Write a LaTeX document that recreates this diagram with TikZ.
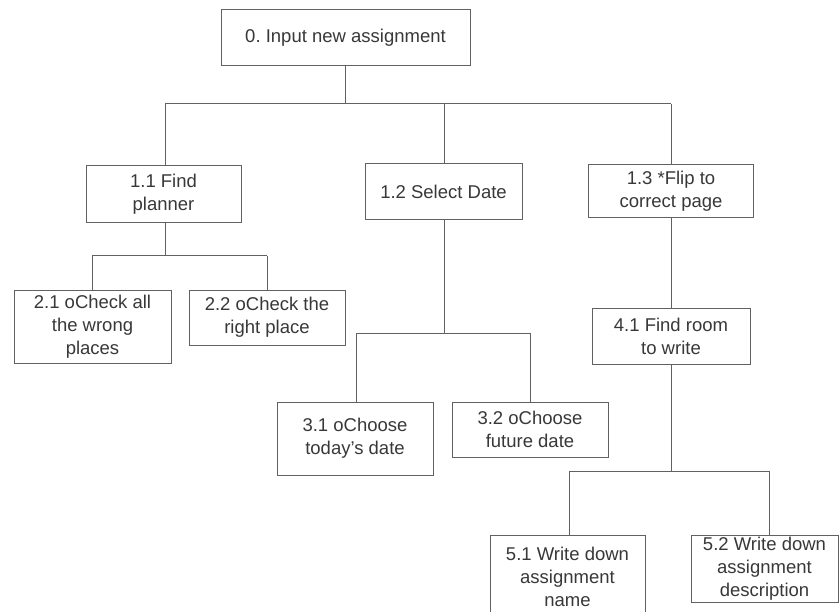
\documentclass[tikz,border=0pt]{standalone}
\usepackage{fontspec}
\setmainfont{Liberation Sans}
\frenchspacing
\begin{document}
\begin{tikzpicture}[x=1pt,y=-1pt,
  box/.style={draw=black!62, line width=1pt, rectangle, inner sep=0pt,
    align=center, text=black!78, font=\fontsize{18.5}{23}\selectfont},
  link/.style={draw=black!62, line width=1pt}]
\useasboundingbox (0,0) rectangle (840,612);
\clip (0,0) rectangle (840,612);
\fill[white] (0,0) rectangle (840,612);
% nodes
\node[box, minimum width=249pt, minimum height=56pt] (n0) at (345.5,38) {0. Input new assignment};
\node[box, minimum width=155pt, minimum height=57pt] (n11) at (163.5,194.5) {1.1 Find\\planner};
\node[box, minimum width=157pt, minimum height=56pt] (n12) at (443.5,192) {1.2 Select Date};
\node[box, minimum width=165pt, minimum height=53pt] (n13) at (671,191.5) {1.3 *Flip to\\correct page};
\node[box, minimum width=157pt, minimum height=73pt] (n21) at (92.5,326.5) {2.1 oCheck all\\the wrong\\places};
\node[box, minimum width=156pt, minimum height=55pt] (n22) at (267,317.5) {2.2 oCheck the\\right place};
\node[box, minimum width=156pt, minimum height=73pt] (n31) at (355,438.5) {3.1 oChoose\\today's date};
\node[box, minimum width=156pt, minimum height=55pt] (n32) at (530,429.5) {3.2 oChoose\\future date};
\node[box, minimum width=158pt, minimum height=56pt] (n41) at (671,336) {4.1 Find room\\to write};
\node[box, minimum width=155pt, minimum height=84pt] (n51) at (567.5,577) {5.1 Write down\\assignment\\name};
\node[box, minimum width=147pt, minimum height=67pt] (n52) at (764.5,568.5) {5.2 Write down\\assignment\\description};
% junction coordinates
\coordinate (b0) at (345.5,104);
\coordinate (b0l) at (165,104);
\coordinate (b0m) at (444,104);
\coordinate (b0r) at (671,104);
\coordinate (b1) at (165,256);
\coordinate (b1l) at (92,256);
\coordinate (b1r) at (267,256);
\coordinate (b2) at (444,333);
\coordinate (b2l) at (356,333);
\coordinate (b2r) at (530,333);
\coordinate (b4) at (671,471);
\coordinate (b4l) at (569,471);
\coordinate (b4r) at (769,471);
% connectors
\draw[link] (n0.south) -- (b0);
\draw[link] (b0l) -- (b0r);
\draw[link] (b0l) -- (b0l |- n11.north);
\draw[link] (b0m) -- (b0m |- n12.north);
\draw[link] (b0r) -- (b0r |- n13.north);
\draw[link] (b1 |- n11.south) -- (b1);
\draw[link] (b1l) -- (b1r);
\draw[link] (b1l) -- (b1l |- n21.north);
\draw[link] (b1r) -- (b1r |- n22.north);
\draw[link] (b2 |- n12.south) -- (b2);
\draw[link] (b2l) -- (b2r);
\draw[link] (b2l) -- (b2l |- n31.north);
\draw[link] (b2r) -- (b2r |- n32.north);
\draw[link] (b0r |- n13.south) -- (b0r |- n41.north);
\draw[link] (b4 |- n41.south) -- (b4);
\draw[link] (b4l) -- (b4r);
\draw[link] (b4l) -- (b4l |- n51.north);
\draw[link] (b4r) -- (b4r |- n52.north);
\end{tikzpicture}
\end{document}
